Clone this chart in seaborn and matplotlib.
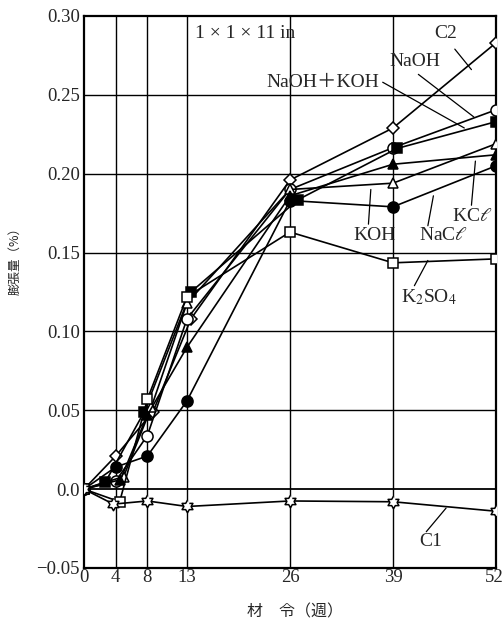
import numpy as np
import pandas as pd
import matplotlib
matplotlib.use("Agg")
import matplotlib.pyplot as plt
from matplotlib.transforms import offset_copy
import seaborn as sns

# ---- data ----
x_ticks = [0, 4, 8, 13, 26, 39, 52]
y_ticks = [-0.05, 0.0, 0.05, 0.10, 0.15, 0.20, 0.25, 0.30]
y_tick_labels = ["\u22120.05", "0.0", "0.05", "0.10", "0.15", "0.20", "0.25", "0.30"]

c2_x = [0, 4, 8.7, 13.5, 26, 39, 52]
c2_y = [0, 0.021, 0.049, 0.108, 0.196, 0.229, 0.283]
naoh_x = [0, 4, 8, 13, 26, 39, 52]
naoh_y = [0, 0.005, 0.034, 0.108, 0.190, 0.2165, 0.2405]
naohkoh_x = [0, 2.7, 7.6, 13.5, 27, 39.5, 52]
naohkoh_y = [0, 0.0045, 0.049, 0.125, 0.1835, 0.216, 0.233]
koh_x = [0, 5, 8.5, 13, 26, 39, 52]
koh_y = [0, 0.008, 0.052, 0.118, 0.190, 0.194, 0.219]
nacl_x = [0, 4, 8, 13, 26, 39, 52]
nacl_y = [0, 0.014, 0.021, 0.056, 0.183, 0.179, 0.205]
kcl_x = [0, 4.6, 8, 13, 26, 39, 52]
kcl_y = [0, 0.006, 0.047, 0.090, 0.186, 0.206, 0.212]
k2so4_x = [0, 4.5, 8, 13, 26, 39, 52]
k2so4_y = [0, -0.008, 0.057, 0.122, 0.163, 0.1435, 0.146]
c1_x = [0, 3.7, 8, 13, 26, 39, 52]
c1_y = [0, -0.0095, -0.0075, -0.011, -0.0075, -0.008, -0.014]

# hexagram marker
ang = np.pi / 2 + np.arange(12) * np.pi / 6
rad = np.where(np.arange(12) % 2 == 0, 1.0, 1 / np.sqrt(3))
hexagram = list(zip(rad * np.cos(ang), rad * np.sin(ang)))

series = [
    ("C2", c2_x, c2_y, "D", "white", 6),
    ("NaOH", naoh_x, naoh_y, "o", "white", 8),
    ("NaOH+KOH", naohkoh_x, naohkoh_y, "s", "black", 7),
    ("KOH", koh_x, koh_y, "^", "white", 7),
    ("NaCl", nacl_x, nacl_y, "o", "black", 8),
    ("KCl", kcl_x, kcl_y, "^", "black", 7),
    ("K2SO4", k2so4_x, k2so4_y, "s", "white", 7),
    ("C1", c1_x, c1_y, hexagram, "white", 9),
]

sns.set_style("white")
serif = ["Liberation Serif", "Noto Sans CJK JP", "DejaVu Serif"]
plt.rcParams["font.family"] = serif
plt.rcParams["mathtext.fontset"] = "stix"

fig = plt.figure(figsize=(5.03, 6.22), dpi=100)
ax = fig.add_axes([84 / 503, 1 - 568 / 622, (496 - 84) / 503, (568 - 16) / 622])

for name, xs, ys, mk, fc, ms in series:
    df = pd.DataFrame({"x": xs, "y": ys})
    sns.lineplot(data=df, x="x", y="y", ax=ax, color="black", lw=1.2,
                 marker=mk, markerfacecolor=fc, markeredgecolor="black",
                 markeredgewidth=1.1, markersize=ms, sort=False, zorder=3)

ax.set_xlim(0, 52)
ax.set_ylim(-0.05, 0.30)
ax.set_xticks(x_ticks)
ax.set_xticklabels([str(v) for v in x_ticks])
ax.set_yticks(y_ticks)
ax.set_yticklabels(y_tick_labels)
ax.tick_params(length=0, labelsize=13.5, pad=3)
ax.tick_params(axis="x", pad=1)
last = ax.get_xticklabels()[-1]
last.set_horizontalalignment("right")
last.set_transform(offset_copy(last.get_transform(), fig=fig, x=8, units="dots"))
for v in x_ticks[1:-1]:
    ax.axvline(v, color="black", lw=1.0, zorder=1)
for v in y_ticks[1:-1]:
    ax.axhline(v, color="black", lw=1.0 if v != 0 else 1.3, zorder=1)
for s in ax.spines.values():
    s.set_color("black")
    s.set_linewidth(1.6)
ax.set_xlabel("")
ax.set_ylabel("")

fs = 14
ax.text(14.0, 0.289, "1 \u00d7 1 \u00d7 11 in", fontsize=14, va="center", ha="left")

def lab(txt, tx, ty, x0, y0, x1, y1, ha="center"):
    ax.text(tx, ty, txt, fontsize=fs, ha=ha, va="center", zorder=5)
    ax.plot([x0, x1], [y0, y1], color="black", lw=0.9, zorder=4)

lab("C2", 45.7, 0.289, 46.8, 0.279, 48.9, 0.266)
lab("NaOH", 41.8, 0.271, 42.2, 0.263, 49.2, 0.236)
lab("NaOH\uff0bKOH", 30.1, 0.258, 37.7, 0.258, 48.0, 0.229)
lab("KOH", 36.7, 0.161, 35.9, 0.168, 36.2, 0.190)
lab("NaC$\\ell$", 45.4, 0.161, 43.4, 0.167, 44.1, 0.186)
lab("KC$\\ell$", 49.0, 0.173, 48.9, 0.180, 49.4, 0.208)
lab("K$_2$SO$_4$", 43.6, 0.122, 41.7, 0.129, 43.4, 0.145)
lab("C1", 43.8, -0.033, 43.2, -0.027, 45.7, -0.012)

cjk = ["Noto Sans CJK JP", "DejaVu Sans"]
fig.text(295 / 503, 1 - 612 / 622, "材　令（週）", family=cjk, fontsize=11.5,
         ha="center", va="center")
fig.text(15 / 503, 1 - 258 / 622, "膨張量（%）", family=cjk, fontsize=9,
         ha="center", va="center", rotation=90)

fig.savefig("out.png", dpi=100)
